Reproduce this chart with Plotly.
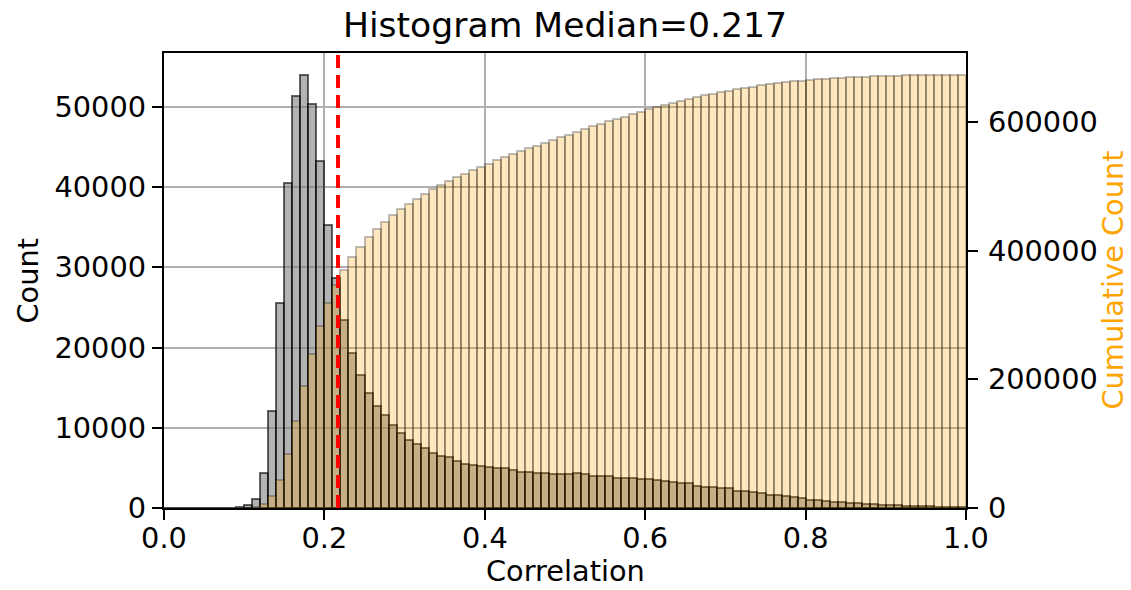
import numpy as np
import plotly.graph_objects as go

# Histogram of correlation values: 100 bins of width 0.01 on [0, 1]
bin_width = 0.01
bin_left = np.round(np.arange(0.0, 1.0, bin_width), 2)
bin_center = bin_left + bin_width / 2

counts = [
    0, 0, 0, 0, 0, 0, 0, 0, 20, 120,                      # 0.00 - 0.09
    340, 1080, 4330, 12100, 25500, 40560, 51370, 54030, 50340, 43300,   # 0.10 - 0.19
    35250, 28640, 23500, 19300, 16600, 14400, 12700, 11550, 10300, 9300,  # 0.20 - 0.29
    8420, 7960, 7500, 6920, 6470, 6300, 5840, 5510, 5390, 5260,  # 0.30 - 0.39
    5140, 5050, 4950, 4700, 4500, 4430, 4330, 4320, 4240, 4230,  # 0.40 - 0.49
    4300, 4380, 4300, 4010, 3970, 3960, 3800, 3790, 3680, 3670,  # 0.50 - 0.59
    3560, 3550, 3390, 3270, 3100, 3080, 2770, 2640, 2630, 2480,  # 0.60 - 0.69
    2470, 2180, 2140, 1940, 1810, 1650, 1600, 1480, 1400, 1230,  # 0.70 - 0.79
    1060, 980, 900, 800, 720, 680, 600, 530, 460, 390,           # 0.80 - 0.89
    360, 320, 290, 260, 220, 190, 170, 150, 130, 110,            # 0.90 - 0.99
]
cumulative = np.cumsum(counts)
median_value = 0.217

x_ticks = [0.0, 0.2, 0.4, 0.6, 0.8, 1.0]
count_ticks = [0, 10000, 20000, 30000, 40000, 50000]
cum_ticks = [0, 200000, 400000, 600000]

FONT = "DejaVu Sans"
BASE = 28.8
LW = 2.3

fig = go.Figure()

fig.add_trace(go.Bar(
    x=bin_center, y=counts, width=bin_width,
    marker=dict(color="rgba(128,128,128,0.6)",
                line=dict(color="rgba(0,0,0,0.6)", width=2)),
    name="Count", yaxis="y",
))

fig.add_trace(go.Bar(
    x=bin_center, y=cumulative, width=bin_width,
    marker=dict(color="rgba(255,165,0,0.25)",
                line=dict(color="rgba(0,0,0,0.25)", width=2)),
    name="Cumulative Count", yaxis="y2",
))

# median marker
fig.add_shape(type="line", xref="x", yref="paper",
              x0=median_value, x1=median_value, y0=0, y1=1,
              line=dict(color="red", width=4, dash="13px,7px"), layer="above")

axis_common = dict(
    showline=True, linecolor="black", linewidth=LW,
    ticks="outside", ticklen=10, tickwidth=LW, tickcolor="black",
    tickfont=dict(family=FONT, size=BASE, color="black"),
    zeroline=False,
)

fig.update_layout(
    width=1131, height=590,
    margin=dict(l=164, r=165, t=53, b=82),
    paper_bgcolor="white", plot_bgcolor="white",
    barmode="overlay", bargap=0, showlegend=False,
    title=dict(text="Histogram Median=0.217", x=0.5, xref="paper",
               y=1 - 25 / 590, yref="container", yanchor="middle",
               font=dict(family=FONT, size=34.6, color="black")),
    xaxis=dict(range=[0, 1], tickvals=x_ticks, tickformat=".1f",
               mirror=True, showgrid=True, gridcolor="#b0b0b0", gridwidth=LW,
               ticklabelstandoff=-7, **axis_common),
    yaxis=dict(range=[0, max(counts) * 1.05], tickvals=count_ticks,
               tickformat="d", showgrid=True, gridcolor="#b0b0b0",
               gridwidth=LW, ticklabelstandoff=0, **axis_common),
    yaxis2=dict(range=[0, cumulative[-1] * 1.05], tickvals=cum_ticks,
                tickformat="d", overlaying="y", side="right",
                showgrid=False, ticklabelstandoff=4, **axis_common),
)

label_font = dict(family=FONT, size=BASE, color="black")
fig.add_annotation(text="Correlation", xref="paper", yref="paper",
                   x=0.5, y=0, yshift=-82, showarrow=False,
                   xanchor="center", yanchor="bottom", font=label_font)
fig.add_annotation(text="Count", xref="paper", yref="paper",
                   x=0, y=0.5, xshift=-137, textangle=-90, showarrow=False,
                   xanchor="center", yanchor="middle", font=label_font)
fig.add_annotation(text="Cumulative Count", xref="paper", yref="paper",
                   x=1, y=0.5, xshift=165, textangle=-90, showarrow=False,
                   xanchor="right", yanchor="middle",
                   font=dict(family=FONT, size=BASE, color="orange"))

fig.write_html("out.html")
